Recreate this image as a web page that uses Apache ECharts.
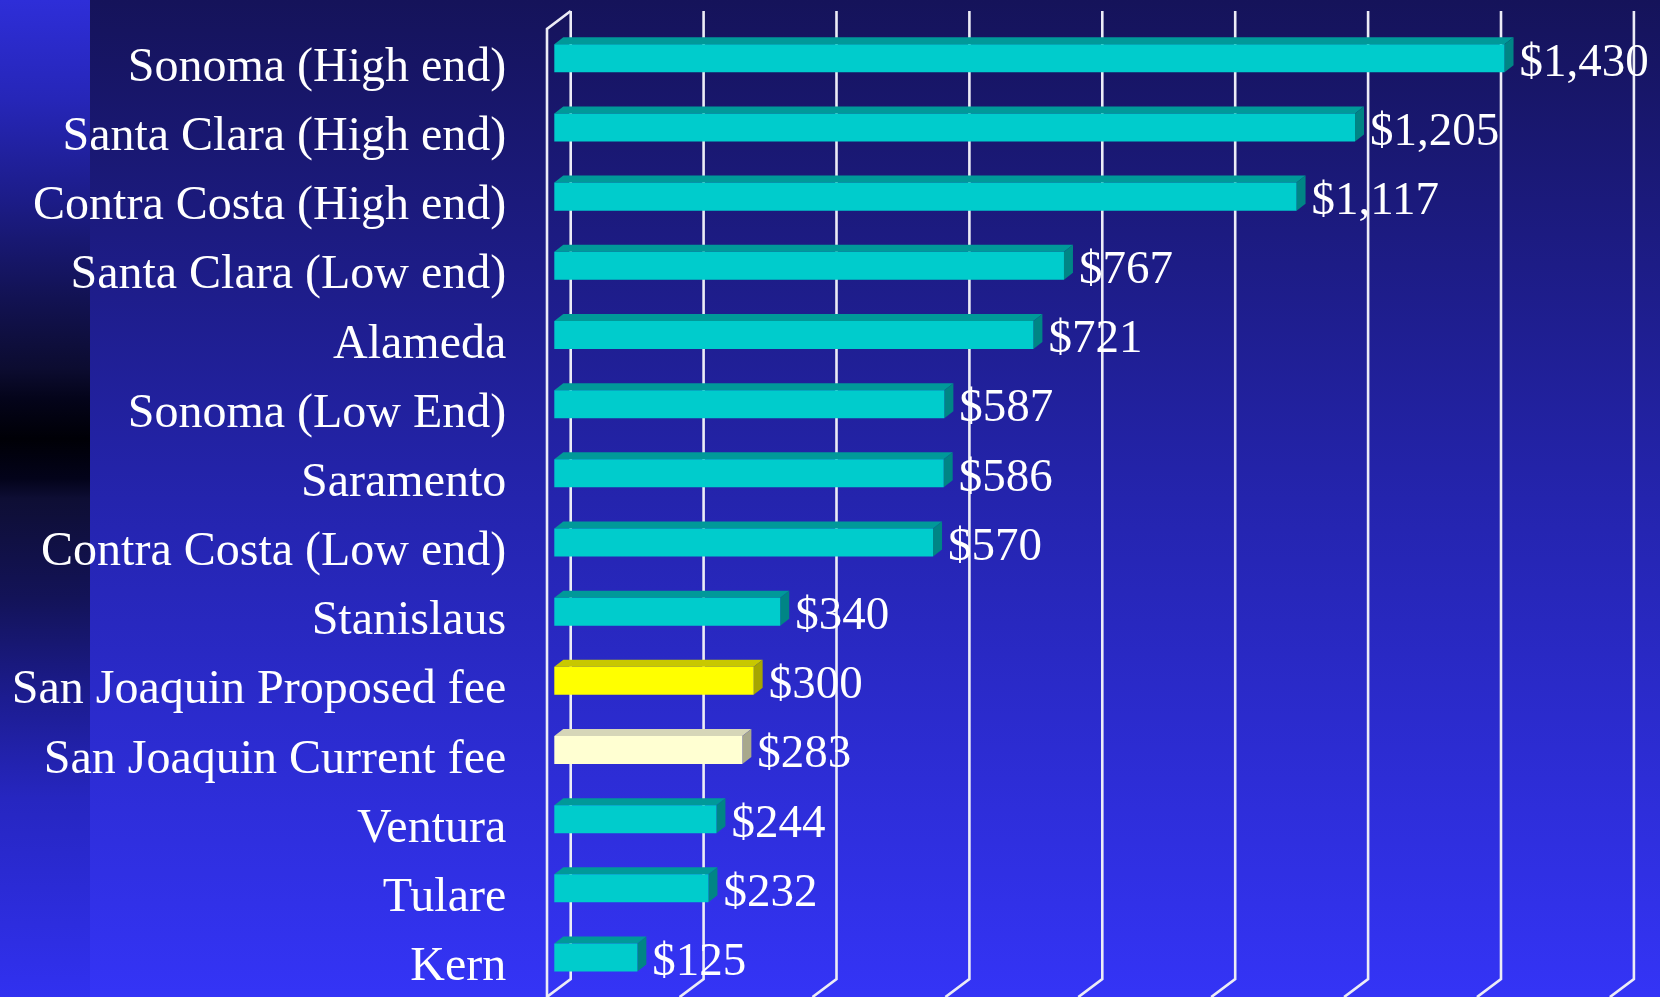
<!DOCTYPE html>
<html>
<head>
<meta charset="utf-8">
<style>
    html, body { margin: 0; padding: 0; }
    #chart { width: 1660px; height: 997px; }
</style>
<script src="https://cdn.jsdelivr.net/npm/echarts@6/dist/echarts.min.js"></script>
</head>
<body>
<div id="chart"></div>
<script>
    // data, top to bottom
    var categories = ['Sonoma (High end)', 'Santa Clara (High end)', 'Contra Costa (High end)',
        'Santa Clara (Low end)', 'Alameda', 'Sonoma (Low End)', 'Saramento',
        'Contra Costa (Low end)', 'Stanislaus', 'San Joaquin Proposed fee',
        'San Joaquin Current fee', 'Ventura', 'Tulare', 'Kern'];
    var fees = [1430, 1205, 1117, 767, 721, 587, 586, 570, 340, 300, 283, 244, 232, 125];
    var barKinds = ['teal', 'teal', 'teal', 'teal', 'teal', 'teal', 'teal', 'teal', 'teal',
        'proposed', 'current', 'teal', 'teal', 'teal'];
    var ticks = [0, 200, 400, 600, 800, 1000, 1200, 1400, 1600];

    var palette = {
        teal:     { front: '#00cccc', top: '#009999', side: '#008585' },
        proposed: { front: '#ffff00', top: '#c8c800', side: '#a6a600' },
        current:  { front: '#ffffd2', top: '#d6d6b8', side: '#a8a88c' }
    };
    var font = "'Liberation Serif', 'Times New Roman', serif";

    // 3D depth of the bars and of the walls (pixels)
    var barDx = 9, barDy = -7;
    var wallBack = 16.4, wallFront = -7.3;

    var chart = echarts.init(document.getElementById('chart'));

    function renderBar(params, api) {
        var idx = api.value(0);
        var v = api.value(1);
        var start = api.coord([0, idx]);
        var end = api.coord([v, idx]);
        var h = api.size([0, 1])[1] * 0.405;
        var c = palette[barKinds[idx]];
        var x0 = start[0], x1 = end[0];
        var y0 = end[1] - h / 2, y1 = end[1] + h / 2;
        return {
            type: 'group',
            children: [
                { type: 'polygon', shape: { points: [[x0, y0], [x0 + barDx, y0 + barDy], [x1 + barDx, y0 + barDy], [x1, y0]] },
                  style: { fill: c.top } },
                { type: 'polygon', shape: { points: [[x1, y0], [x1 + barDx, y0 + barDy], [x1 + barDx, y1 + barDy], [x1, y1]] },
                  style: { fill: c.side } },
                { type: 'rect', shape: { x: x0, y: y0, width: x1 - x0, height: h },
                  style: { fill: c.front } },
                { type: 'text', x: x1 + 15, y: end[1] + 5,
                  style: { text: '$' + v.toLocaleString('en-US'), fill: '#ffffff', font: '47px ' + font,
                           align: 'left', verticalAlign: 'middle' } }
            ]
        };
    }

    function renderWall(params, api) {
        var v = api.value(0);
        var x = api.coord([v, 0])[0] + wallBack;
        var cs = params.coordSys;
        var top = cs.y - 12.7, bottom = cs.y + cs.height - 13;
        var lines = [
            { type: 'polyline', shape: { points: [[x, top], [x, bottom], [x - 24, bottom + 18]] },
              style: { stroke: '#ececf6', lineWidth: 2.6, fill: null } }
        ];
        if (v === 0) {
            var xf = api.coord([0, 0])[0] + wallFront;
            lines.push({ type: 'polyline', shape: { points: [[x, top], [xf, top + 18], [xf, bottom + 18]] },
                         style: { stroke: '#ececf6', lineWidth: 2.6, fill: null } });
        }
        return { type: 'group', children: lines };
    }

    var option = {
        animation: false,
        graphic: [
            {
                type: 'rect', z: -10, silent: true,
                shape: { x: 0, y: 0, width: 1660, height: 997 },
                style: {
                    fill: new echarts.graphic.LinearGradient(0, 0, 0, 1, [
                        { offset: 0, color: '#15135a' },
                        { offset: 0.5, color: '#2424ad' },
                        { offset: 1, color: '#3434f6' }
                    ])
                }
            },
            {
                type: 'rect', z: -9, silent: true,
                shape: { x: 0, y: 0, width: 90, height: 997 },
                style: {
                    fill: new echarts.graphic.LinearGradient(0, 0, 0, 1, [
                        { offset: 0, color: '#2e2ed8' },
                        { offset: 0.1, color: '#2626b8' },
                        { offset: 0.2, color: '#1c1c88' },
                        { offset: 0.3, color: '#121252' },
                        { offset: 0.37, color: '#0c0c30' },
                        { offset: 0.4, color: '#04041a' },
                        { offset: 0.44, color: '#000006' },
                        { offset: 0.48, color: '#03031a' },
                        { offset: 0.5, color: '#0e0e34' },
                        { offset: 0.6, color: '#131358' },
                        { offset: 0.7, color: '#1c1c90' },
                        { offset: 0.8, color: '#2626c0' },
                        { offset: 1, color: '#3131f0' }
                    ])
                }
            }
        ],
        grid: {
            left: 554.3,
            right: 42.5,
            top: 23.7,
            bottom: 4.9
        },
        xAxis: {
            type: 'value',
            min: 0,
            max: 1600,
            interval: 200,
            axisLine: { show: false },
            axisTick: { show: false },
            axisLabel: { show: false },
            splitLine: { show: false }
        },
        yAxis: {
            type: 'category',
            data: categories,
            inverse: true,
            axisLine: { show: false },
            axisTick: { show: false },
            axisLabel: {
                color: '#ffffff',
                fontFamily: font,
                fontSize: 48,
                margin: 48,
                verticalAlign: 'top',
                lineHeight: 20
            },
            splitLine: { show: false }
        },
        series: [
            {
                type: 'custom',
                name: 'walls',
                z: 1,
                renderItem: renderWall,
                data: ticks.map(function (t) { return [t]; }),
                encode: { x: 0 }
            },
            {
                type: 'custom',
                name: 'fees',
                z: 3,
                renderItem: renderBar,
                data: fees.map(function (v, i) { return [i, v]; }),
                encode: { y: 0, x: 1 }
            }
        ]
    };

    chart.setOption(option);
</script>
</body>
</html>
